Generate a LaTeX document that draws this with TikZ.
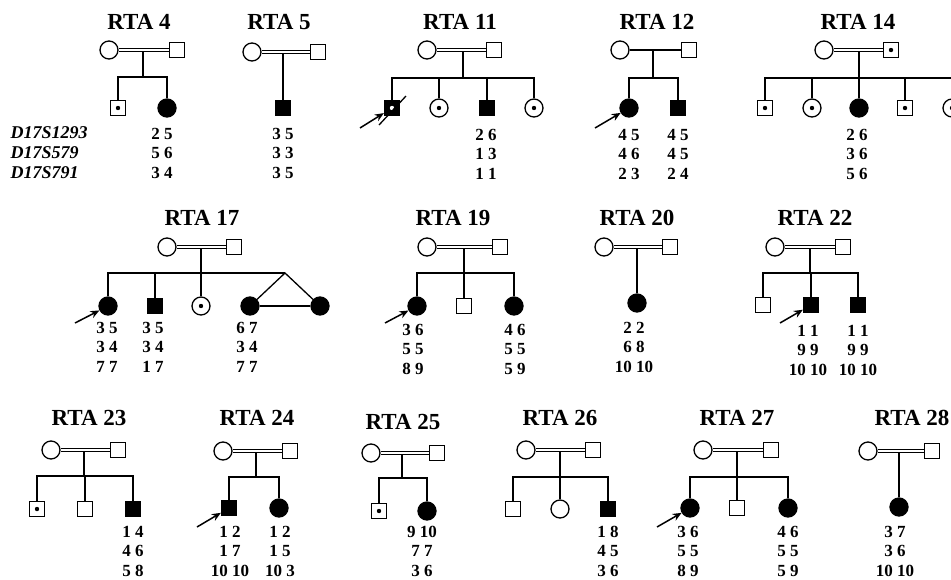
\documentclass[tikz,border=0pt]{standalone}
\usepackage{fontspec}
\setmainfont{Liberation Serif}
\usetikzlibrary{arrows.meta}
\begin{document}
\begin{tikzpicture}[x=1pt,y=-1pt,line width=1.3pt,
  male/.style={draw,rectangle,minimum size=15pt,inner sep=0pt},
  female/.style={draw,circle,minimum size=18pt,inner sep=0pt},
  aff/.style={fill=black},
  carrier/.style={path picture={\fill (path picture bounding box.center) circle (2.2pt);}},
  wcarrier/.style={path picture={\fill[white] (path picture bounding box.center) circle (2.2pt);}},
  marry/.style={double,double distance=2.4pt,line width=0.9pt},
  proband/.style={-{Stealth[length=9pt,width=7.5pt]},line width=1.5pt},
  title/.style={font=\fontsize{23}{25}\selectfont\bfseries},
  geno/.style={align=center,inner sep=0pt,font=\fontsize{17}{19.5}\selectfont\bfseries},
  marker/.style={align=left,anchor=west,inner sep=0pt,font=\fontsize{18}{20}\selectfont\bfseries\itshape}]
  \useasboundingbox (0,0) rectangle (951,579);

  \node[marker] (mk) at (10,153) {D17S1293\\D17S579\\D17S791};

  \node[title] (t4) at (139,22) {RTA 4};
  \node[female] (m4) at (109,50) {};
  \node[male] (f4) at (177,50) {};
  \coordinate (s4) at (143,77);
  \node[male,carrier] (c4a) at (118,108) {};
  \node[female,aff] (c4b) at (167,108) {};
  \draw (s4 |- m4) -- (s4);
  \draw[marry] (m4) -- (f4);
  \draw (c4a) |- (s4) -| (c4b);
  \node[geno] (g4) at (162,153) {2 5\\5 6\\3 4};

  \node[title] (t5) at (279,22) {RTA 5};
  \node[female] (m5) at (252,52) {};
  \node[male] (f5) at (318,52) {};
  \node[male,aff] (c5) at (283,108) {};
  \draw (c5 |- m5) -- (c5);
  \draw[marry] (m5) -- (f5);
  \node[geno] (g5) at (283,153) {3 5\\3 3\\3 5};

  \node[title] (t11) at (460,22) {RTA 11};
  \node[female] (m11) at (427,50) {};
  \node[male] (f11) at (494,50) {};
  \coordinate (s11) at (463,78);
  \node[male,aff,wcarrier] (c11a) at (392,108) {};
  \node[female,carrier] (c11b) at (439,108) {};
  \node[male,aff] (c11c) at (487,108) {};
  \node[female,carrier] (c11d) at (534,108) {};
  \draw (s11 |- m11) -- (s11);
  \draw[marry] (m11) -- (f11);
  \draw (c11a) |- (s11) -| (c11d);
  \draw (c11b) -- (c11b |- s11);
  \draw (c11c) -- (c11c |- s11);
  \draw ([shift={(-13,17)}]c11a.center) -- ([shift={(14,-12)}]c11a.center);
  \coordinate (p11) at (360,128);
  \draw[proband] (p11) -- (c11a);
  \node[geno] (g11) at (486,154) {2 6\\1 3\\1 1};

  \node[title] (t12) at (657,22) {RTA 12};
  \node[female] (m12) at (620,50) {};
  \node[male] (f12) at (689,50) {};
  \coordinate (s12) at (653,78);
  \node[female,aff] (c12a) at (629,108) {};
  \node[male,aff] (c12b) at (678,108) {};
  \draw (m12) -- (f12);
  \draw (s12 |- m12) -- (s12);
  \draw (c12a) |- (s12) -| (c12b);
  \coordinate (p12) at (595,128);
  \draw[proband] (p12) -- (c12a);
  \node[geno] (g12a) at (629,154) {4 5\\4 6\\2 3};
  \node[geno] (g12b) at (678,154) {4 5\\4 5\\2 4};

  \node[title] (t14) at (858,22) {RTA 14};
  \node[female] (m14) at (824,50) {};
  \node[male,carrier] (f14) at (891,50) {};
  \coordinate (s14) at (859,78);
  \node[male,carrier] (c14a) at (765,108) {};
  \node[female,carrier] (c14b) at (812,108) {};
  \node[female,aff] (c14c) at (859,108) {};
  \node[male,carrier] (c14d) at (905,108) {};
  \node[female,carrier] (c14e) at (952,108) {};
  \draw (s14 |- m14) -- (c14c);
  \draw[marry] (m14) -- (f14);
  \draw (c14a) |- (s14) -| (c14e);
  \draw (c14b) -- (c14b |- s14);
  \draw (c14d) -- (c14d |- s14);
  \node[geno] (g14) at (857,154) {2 6\\3 6\\5 6};

  \node[title] (t17) at (202,218) {RTA 17};
  \node[female] (m17) at (167,247) {};
  \node[male] (f17) at (234,247) {};
  \coordinate (s17) at (201,273);
  \coordinate (tw17) at (285,273);
  \node[female,aff] (c17a) at (108,306) {};
  \node[male,aff] (c17b) at (155,306) {};
  \node[female,carrier] (c17c) at (201,306) {};
  \node[female,aff] (c17d) at (250,306) {};
  \node[female,aff] (c17e) at (320,306) {};
  \draw (s17 |- m17) -- (c17c);
  \draw[marry] (m17) -- (f17);
  \draw (c17a) |- (tw17);
  \draw (c17b) -- (c17b |- s17);
  \draw (c17d) -- (tw17) -- (c17e);
  \draw (c17d) -- (c17e);
  \coordinate (p17) at (75,323);
  \draw[proband] (p17) -- (c17a);
  \node[geno] (g17a) at (107,347) {3 5\\3 4\\7 7};
  \node[geno] (g17b) at (153,347) {3 5\\3 4\\1 7};
  \node[geno] (g17d) at (247,347) {6 7\\3 4\\7 7};

  \node[title] (t19) at (453,218) {RTA 19};
  \node[female] (m19) at (427,247) {};
  \node[male] (f19) at (500,247) {};
  \coordinate (s19) at (464,273);
  \node[female,aff] (c19a) at (417,306) {};
  \node[male] (c19b) at (464,306) {};
  \node[female,aff] (c19c) at (514,306) {};
  \draw (s19 |- m19) -- (c19b);
  \draw[marry] (m19) -- (f19);
  \draw (c19a) |- (s19) -| (c19c);
  \coordinate (p19) at (385,323);
  \draw[proband] (p19) -- (c19a);
  \node[geno] (g19a) at (413,349) {3 6\\5 5\\8 9};
  \node[geno] (g19c) at (515,349) {4 6\\5 5\\5 9};

  \node[title] (t20) at (637,218) {RTA 20};
  \node[female] (m20) at (604,247) {};
  \node[male] (f20) at (670,247) {};
  \node[female,aff] (c20) at (637,303) {};
  \draw (c20 |- m20) -- (c20);
  \draw[marry] (m20) -- (f20);
  \node[geno] (g20) at (634,347) {2 2\\6 8\\10 10};

  \node[title] (t22) at (815,218) {RTA 22};
  \node[female] (m22) at (775,247) {};
  \node[male] (f22) at (843,247) {};
  \coordinate (s22) at (810,273);
  \node[male] (c22a) at (763,305) {};
  \node[male,aff] (c22b) at (811,305) {};
  \node[male,aff] (c22c) at (858,305) {};
  \draw (s22 |- m22) -- (s22);
  \draw[marry] (m22) -- (f22);
  \draw (c22a) |- (s22) -| (c22c);
  \draw (c22b) -- (c22b |- s22);
  \coordinate (p22) at (780,323);
  \draw[proband] (p22) -- (c22b);
  \node[geno] (g22b) at (808,350) {1 1\\9 9\\10 10};
  \node[geno] (g22c) at (858,350) {1 1\\9 9\\10 10};

  \node[title] (t23) at (89,418) {RTA 23};
  \node[female] (m23) at (51,450) {};
  \node[male] (f23) at (118,450) {};
  \coordinate (s23) at (84,476);
  \node[male,carrier] (c23a) at (37,509) {};
  \node[male] (c23b) at (85,509) {};
  \node[male,aff] (c23c) at (133,509) {};
  \draw (s23 |- m23) -- (s23);
  \draw[marry] (m23) -- (f23);
  \draw (c23a) |- (s23) -| (c23c);
  \draw (c23b) -- (c23b |- s23);
  \node[geno] (g23) at (133,551) {1 4\\4 6\\5 8};

  \node[title] (t24) at (257,418) {RTA 24};
  \node[female] (m24) at (223,451) {};
  \node[male] (f24) at (290,451) {};
  \coordinate (s24) at (256,477);
  \node[male,aff] (c24a) at (229,508) {};
  \node[female,aff] (c24b) at (279,508) {};
  \draw (s24 |- m24) -- (s24);
  \draw[marry] (m24) -- (f24);
  \draw (c24a) |- (s24) -| (c24b);
  \coordinate (p24) at (197,527);
  \draw[proband] (p24) -- (c24a);
  \node[geno] (g24a) at (230,551) {1 2\\1 7\\10 10};
  \node[geno] (g24b) at (280,551) {1 2\\1 5\\10 3};

  \node[title] (t25) at (403,422) {RTA 25};
  \node[female] (m25) at (371,453) {};
  \node[male] (f25) at (437,453) {};
  \coordinate (s25) at (402,478);
  \node[male,carrier] (c25a) at (379,511) {};
  \node[female,aff] (c25b) at (427,511) {};
  \draw (s25 |- m25) -- (s25);
  \draw[marry] (m25) -- (f25);
  \draw (c25a) |- (s25) -| (c25b);
  \node[geno] (g25) at (422,551) {9 10\\7 7\\3 6};

  \node[title] (t26) at (560,418) {RTA 26};
  \node[female] (m26) at (526,450) {};
  \node[male] (f26) at (593,450) {};
  \coordinate (s26) at (560,477);
  \node[male] (c26a) at (513,509) {};
  \node[female] (c26b) at (560,509) {};
  \node[male,aff] (c26c) at (608,509) {};
  \draw (s26 |- m26) -- (c26b);
  \draw[marry] (m26) -- (f26);
  \draw (c26a) |- (s26) -| (c26c);
  \node[geno] (g26) at (608,551) {1 8\\4 5\\3 6};

  \node[title] (t27) at (737,418) {RTA 27};
  \node[female] (m27) at (703,450) {};
  \node[male] (f27) at (771,450) {};
  \coordinate (s27) at (737,477);
  \node[female,aff] (c27a) at (690,508) {};
  \node[male] (c27b) at (737,508) {};
  \node[female,aff] (c27c) at (788,508) {};
  \draw (s27 |- m27) -- (c27b);
  \draw[marry] (m27) -- (f27);
  \draw (c27a) |- (s27) -| (c27c);
  \coordinate (p27) at (657,527);
  \draw[proband] (p27) -- (c27a);
  \node[geno] (g27a) at (688,551) {3 6\\5 5\\8 9};
  \node[geno] (g27c) at (788,551) {4 6\\5 5\\5 9};

  \node[title] (t28) at (912,418) {RTA 28};
  \node[female] (m28) at (868,451) {};
  \node[male] (f28) at (932,451) {};
  \node[female,aff] (c28) at (899,507) {};
  \draw (c28 |- m28) -- (c28);
  \draw[marry] (m28) -- (f28);
  \node[geno] (g28) at (895,551) {3 7\\3 6\\10 10};
\end{tikzpicture}
\end{document}
